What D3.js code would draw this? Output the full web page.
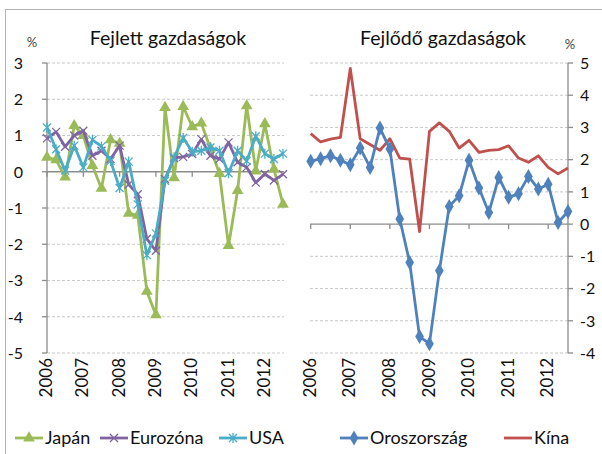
<!DOCTYPE html>
<html>
<head>
<meta charset="utf-8">
<script src="https://cdn.jsdelivr.net/npm/d3@7"></script>
<style>
  body { margin: 0; background: #fff; }
  svg { display: block; font-family: Lato, "DejaVu Sans", sans-serif; }
  .grid { stroke: #c8c8c8; stroke-dasharray: 3 2; stroke-width: 1; }
  .axisline { stroke: #8c8c8c; stroke-width: 1.3; }
  .tick { fill: #111; font-size: 16px; }
  .year { fill: #111; font-size: 17px; }
  .leg { fill: #111; font-size: 18px; }
</style>
</head>
<body>
<svg id="chart" width="602" height="454"></svg>
<script>
// categories: quarters 2006Q1 - 2012Q3
var years = ["2006", "2007", "2008", "2009", "2010", "2011", "2012"];
var quarters = [];
years.forEach(function (y) {
    ["Q1", "Q2", "Q3", "Q4"].forEach(function (q) { quarters.push(y + q); });
});
quarters = quarters.slice(0, 27);

// quarterly growth, % (developed economies)
var japan = [0.4, 0.33, -0.15, 1.27, 1.0, 0.17, -0.46, 0.88, 0.78, -1.15, -1.2, -3.3, -3.95,
    1.77, -0.17, 1.8, 1.24, 1.34, 0.65, -0.05, -2.04, -0.52, 1.82, 0.02, 1.32, 0.07, -0.9];
var eurozone = [0.92, 1.1, 0.69, 1.0, 1.13, 0.44, 0.58, 0.35, 0.72, -0.35, -0.62, -1.85, -2.18,
    -0.2, 0.38, 0.41, 0.49, 0.9, 0.44, 0.35, 0.81, 0.26, 0.12, -0.3, -0.06, -0.24, -0.07];
var usa = [1.22, 0.62, 0.03, 0.72, 0.12, 0.88, 0.7, 0.3, -0.45, 0.28, -0.9, -2.3, -1.7,
    -0.25, 0.4, 0.93, 0.55, 0.58, 0.67, 0.58, -0.04, 0.58, 0.3, 0.98, 0.5, 0.35, 0.5];

// quarterly growth, % (emerging economies)
var russia = [1.95, 2.03, 2.12, 1.98, 1.84, 2.36, 1.76, 2.98, 2.33, 0.16, -1.19, -3.49, -3.71,
    -1.45, 0.55, 0.88, 1.98, 1.12, 0.36, 1.45, 0.83, 0.94, 1.48, 1.09, 1.24, 0.05, 0.39];
var china = [2.81, 2.55, 2.64, 2.69, 4.83, 2.65, 2.47, 2.29, 2.65, 2.05, 2.02, -0.23, 2.88,
    3.14, 2.88, 2.36, 2.6, 2.23, 2.29, 2.31, 2.43, 2.05, 1.92, 2.12, 1.76, 1.56, 1.74];

var leftTicks = [3, 2, 1, 0, -1, -2, -3, -4, -5];
var rightTicks = [5, 4, 3, 2, 1, 0, -1, -2, -3, -4];

var colors = { japan: "#9BBB59", euro: "#8064A2", usa: "#4BACC6", russia: "#4F81BD", china: "#C0504D" };

var svg = d3.select("#chart");

// outer frame
svg.append("rect")
    .attr("x", 5.5).attr("y", 9.5).attr("width", 640).attr("height", 480)
    .attr("fill", "none").attr("stroke", "#b4b4b4");

var plotTop = 63, plotBottom = 353;

// ---------- left panel ----------
var xL = d3.scalePoint().domain(quarters).range([47, 283]);
var yL = d3.scaleLinear().domain([-5, 3]).range([plotBottom, plotTop]);

var left = svg.append("g");

left.selectAll("line.grid")
    .data(leftTicks.filter(function (d) { return d !== 0; }))
    .enter().append("line")
    .attr("class", "grid")
    .attr("x1", 47).attr("x2", 284)
    .attr("y1", function (d) { return yL(d); })
    .attr("y2", function (d) { return yL(d); });

// y axis
left.append("line").attr("class", "axisline")
    .attr("x1", 47).attr("x2", 47).attr("y1", plotTop).attr("y2", plotBottom);
left.selectAll("line.ytick")
    .data(leftTicks).enter().append("line")
    .attr("class", "axisline")
    .attr("x1", 42).attr("x2", 47)
    .attr("y1", function (d) { return yL(d); })
    .attr("y2", function (d) { return yL(d); });
left.selectAll("text.ylab")
    .data(leftTicks).enter().append("text")
    .attr("class", "tick")
    .attr("x", 23).attr("y", function (d) { return yL(d); })
    .attr("dy", "0.36em")
    .attr("text-anchor", "end")
    .text(function (d) { return d < 0 ? "-" + Math.abs(d) : d; });

// x axis at zero
left.append("line").attr("class", "axisline")
    .attr("x1", 47).attr("x2", 284).attr("y1", yL(0)).attr("y2", yL(0));
left.selectAll("line.xtick")
    .data(years).enter().append("line")
    .attr("class", "axisline")
    .attr("x1", function (d) { return xL(d + "Q1"); })
    .attr("x2", function (d) { return xL(d + "Q1"); })
    .attr("y1", yL(0)).attr("y2", yL(0) + 5);

// ---------- right panel ----------
var xR = d3.scalePoint().domain(quarters).range([310.7, 568]);
var yR = d3.scaleLinear().domain([-4, 5]).range([plotBottom, plotTop]);

var right = svg.append("g");

right.selectAll("line.grid")
    .data(rightTicks.filter(function (d) { return d !== 0; }))
    .enter().append("line")
    .attr("class", "grid")
    .attr("x1", 310).attr("x2", 568)
    .attr("y1", function (d) { return yR(d); })
    .attr("y2", function (d) { return yR(d); });

right.append("line").attr("class", "axisline")
    .attr("x1", 568).attr("x2", 568).attr("y1", plotTop).attr("y2", plotBottom);
right.selectAll("line.ytick")
    .data(rightTicks).enter().append("line")
    .attr("class", "axisline")
    .attr("x1", 568).attr("x2", 573)
    .attr("y1", function (d) { return yR(d); })
    .attr("y2", function (d) { return yR(d); });
right.selectAll("text.ylab")
    .data(rightTicks).enter().append("text")
    .attr("class", "tick")
    .attr("x", 580).attr("y", function (d) { return yR(d); })
    .attr("dy", "0.36em")
    .text(function (d) { return d < 0 ? "-" + Math.abs(d) : d; });

right.append("line").attr("class", "axisline")
    .attr("x1", 310).attr("x2", 568).attr("y1", yR(0)).attr("y2", yR(0));
right.selectAll("line.xtick")
    .data(years).enter().append("line")
    .attr("class", "axisline")
    .attr("x1", function (d) { return xR(d + "Q1"); })
    .attr("x2", function (d) { return xR(d + "Q1"); })
    .attr("y1", yR(0)).attr("y2", yR(0) + 5);

// year labels under both panels
[xL, xR].forEach(function (x) {
    svg.append("g").selectAll("text")
        .data(years).enter().append("text")
        .attr("class", "year")
        .attr("transform", function (d) { return "translate(" + (x(d + "Q1") - 1) + ",358) rotate(-90)"; })
        .attr("dy", "0.36em")
        .attr("text-anchor", "end")
        .text(function (d) { return d; });
});

// titles
svg.append("text").text("Fejlett gazdaságok")
    .attr("x", 168).attr("y", 45).attr("text-anchor", "middle")
    .style("font-size", "19.5px").attr("fill", "#111");
svg.append("text").text("Fejlődő gazdaságok")
    .attr("x", 443).attr("y", 45).attr("text-anchor", "middle")
    .style("font-size", "19.5px").attr("fill", "#111");
svg.append("text").text("%").attr("x", 32).attr("y", 47)
    .attr("text-anchor", "middle").style("font-size", "13px").attr("fill", "#444");
svg.append("text").text("%").attr("x", 570).attr("y", 49)
    .attr("text-anchor", "middle").style("font-size", "13px").attr("fill", "#444");

// ---------- markers ----------
function marker(g, type, color) {
    if (type === "triangle") {
        g.append("path").attr("d", d3.symbol(d3.symbolTriangle).size(60)).attr("fill", color);
    } else if (type === "diamond") {
        g.append("path").attr("d", d3.symbol(d3.symbolDiamond).size(65)).attr("fill", color);
    } else if (type === "x") {
        g.append("path").attr("d", "M-4,-4L4,4M-4,4L4,-4")
            .attr("stroke", color).attr("stroke-width", 1.3).attr("fill", "none");
    } else if (type === "star") {
        g.append("path").attr("d", "M-4,-4L4,4M-4,4L4,-4M0,-5L0,5")
            .attr("stroke", color).attr("stroke-width", 1.3).attr("fill", "none");
    }
}

function drawSeries(data, x, y, color, type) {
    var line = d3.line()
        .x(function (d, i) { return x(quarters[i]); })
        .y(function (d) { return y(d); });
    svg.append("path")
        .datum(data)
        .attr("d", line)
        .attr("fill", "none")
        .attr("stroke", color)
        .attr("stroke-width", 2.8)
        .attr("stroke-linejoin", "round");
    if (type) {
        data.forEach(function (d, i) {
            var g = svg.append("g").attr("transform", "translate(" + x(quarters[i]) + "," + y(d) + ")");
            marker(g, type, color);
        });
    }
}

drawSeries(japan, xL, yL, colors.japan, "triangle");
drawSeries(eurozone, xL, yL, colors.euro, "x");
drawSeries(usa, xL, yL, colors.usa, "star");
drawSeries(china, xR, yR, colors.china, null);
drawSeries(russia, xR, yR, colors.russia, "diamond");

// ---------- legend ----------
var legendItems = [
    { name: "Japán", color: colors.japan, type: "triangle", x: 15 },
    { name: "Eurozóna", color: colors.euro, type: "x", x: 100 },
    { name: "USA", color: colors.usa, type: "star", x: 219 },
    { name: "Oroszország", color: colors.russia, type: "diamond", x: 340 },
    { name: "Kína", color: colors.china, type: null, x: 504 }
];
var legend = svg.append("g").attr("transform", "translate(0,438)");
legendItems.forEach(function (d) {
    legend.append("line")
        .attr("x1", d.x).attr("x2", d.x + 28).attr("y1", 0).attr("y2", 0)
        .attr("stroke", d.color).attr("stroke-width", 2.8);
    var g = legend.append("g").attr("transform", "translate(" + (d.x + 14) + ",0)");
    marker(g, d.type, d.color);
    legend.append("text").text(d.name)
        .attr("x", d.x + 30).attr("dy", "0.36em")
        .attr("class", "leg");
});
</script>
</body>
</html>
